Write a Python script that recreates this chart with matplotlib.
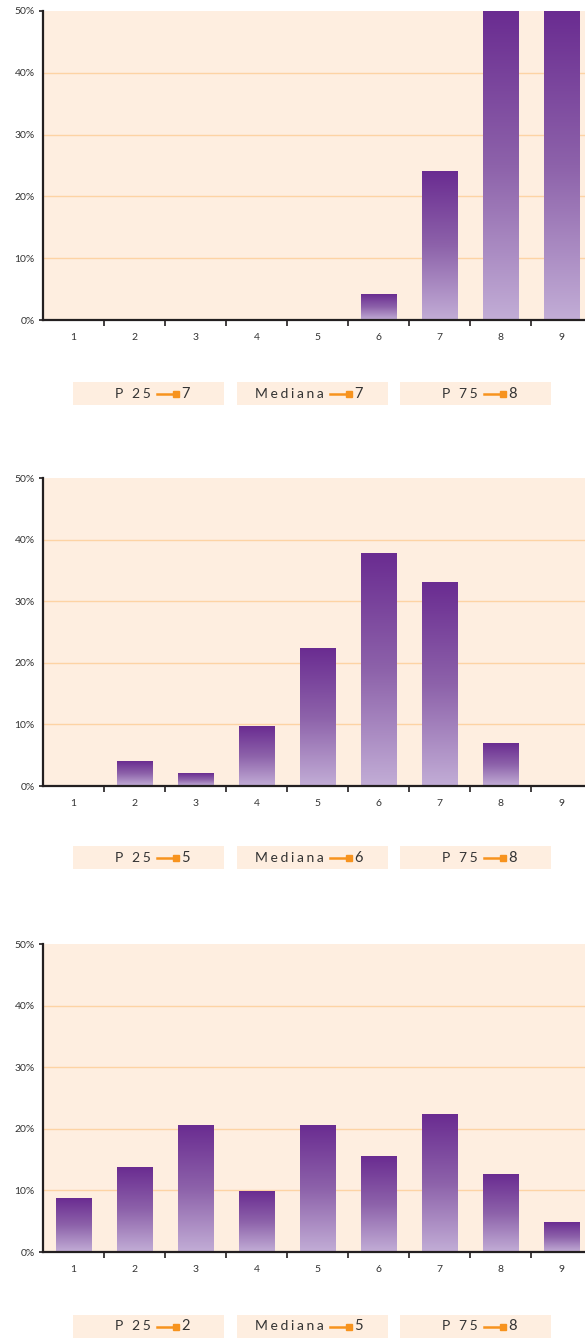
import numpy as np
import matplotlib.pyplot as plt
from matplotlib.colors import LinearSegmentedColormap
from matplotlib.patches import Rectangle
from matplotlib.lines import Line2D

plt.rcParams['font.family'] = ['Lato', 'DejaVu Sans']

# data
categories = [1, 2, 3, 4, 5, 6, 7, 8, 9]
values_1 = [0, 0, 0, 0, 0, 4.2, 24.0, 55.0, 55.0]
values_2 = [0, 4.0, 2.1, 9.7, 22.3, 37.8, 33.1, 6.9, 0]
values_3 = [8.7, 13.75, 20.6, 9.85, 20.6, 15.5, 22.4, 12.6, 4.8]
stat_labels = ['P 25', 'Mediana', 'P 75']
stats_1 = [7, 7, 8]
stats_2 = [5, 6, 8]
stats_3 = [2, 5, 8]
yticks = [0, 10, 20, 30, 40, 50]

W, H = 585, 1338
bg = '#feeee0'
gridc = '#fdd3a4'
dark = '#231f20'
orange = '#f7931e'
cmap = LinearSegmentedColormap.from_list('bars', ['#c2add6', '#8d62aa', '#6a2c91'])

fig = plt.figure(figsize=(W / 100, H / 100), dpi=100)


def fx(x):
    return x / W


def fy(y):
    return 1 - y / H


def spaced(s):
    # letter spaced look of the original
    words = [('\u2009\u200a').join(w) for w in s.split(' ')]
    return '\u2002\u2009'.join(words)


def draw_panel(top, bottom, values, stats, legend_top):
    left = 43
    right = 43 + 9 * 61
    ax = fig.add_axes([fx(left), fy(bottom), fx(right - left), (bottom - top) / H])
    ax.set_facecolor(bg)
    grad = np.linspace(0, 1, 256).reshape(-1, 1)
    w = 0.58
    for x, v in zip(categories, values):
        h = min(v, 50)
        if h <= 0:
            continue
        ax.imshow(grad, cmap=cmap, extent=(x - w / 2, x + w / 2, 0, h),
                  origin='lower', aspect='auto', zorder=3, interpolation='bilinear')
    for y in yticks[1:-1]:
        ax.axhline(y, color=gridc, lw=1, zorder=1)
    ax.set_xlim(0.5, 9.5)
    ax.set_ylim(0, 50)

    ax.set_xticks(categories)
    ax.set_xticklabels([str(c) for c in categories])
    ax.tick_params(axis='x', which='major', length=0, pad=9, labelsize=7.5, labelcolor='#333333')
    ax.set_xticks(np.arange(1.5, 9.5, 1), minor=True)
    ax.tick_params(axis='x', which='minor', length=4, width=1.2, color=dark)

    ax.yaxis.remove_overlapping_locs = False
    ax.set_yticks(yticks)
    ax.set_yticklabels([f'{v}%' for v in yticks])
    ax.tick_params(axis='y', which='major', length=0, pad=6, labelsize=7.5, labelcolor='#333333')
    ax.set_yticks([0, 50], minor=True)
    ax.tick_params(axis='y', which='minor', length=3, width=1.2, color=dark)

    for s in ['top', 'right']:
        ax.spines[s].set_visible(False)
    for s in ['left', 'bottom']:
        ax.spines[s].set_color(dark)
        ax.spines[s].set_linewidth(1.6)
        ax.spines[s].set_zorder(5)

    # percentile boxes under the chart
    boxes = [(73, 224, 78), (237, 388, 87), (400, 551, 78)]
    yc = legend_top + 11.5
    for (bl, br, off), lab, val in zip(boxes, stat_labels, stats):
        fig.patches.append(Rectangle((fx(bl), fy(legend_top + 23)), fx(br - bl), 23 / H,
                                     transform=fig.transFigure, facecolor=bg, edgecolor='none'))
        fig.text(fx(bl + off), fy(yc), spaced(lab), ha='right', va='center',
                 fontsize=10, color='#333333')
        x0 = bl + off + 6
        fig.add_artist(Line2D([fx(x0), fx(x0 + 19)], [fy(yc), fy(yc)], color=orange, lw=1.8,
                              transform=fig.transFigure))
        fig.add_artist(Line2D([fx(x0 + 19)], [fy(yc)], color=orange, marker='s', markersize=4,
                              transform=fig.transFigure))
        fig.text(fx(x0 + 24), fy(yc), str(val), ha='left', va='center',
                 fontsize=10.5, color='#333333')
    return ax


draw_panel(11, 320, values_1, stats_1, 382)
draw_panel(478, 786, values_2, stats_2, 846)
draw_panel(944, 1252, values_3, stats_3, 1315)

fig.savefig('out.png', dpi=100)
